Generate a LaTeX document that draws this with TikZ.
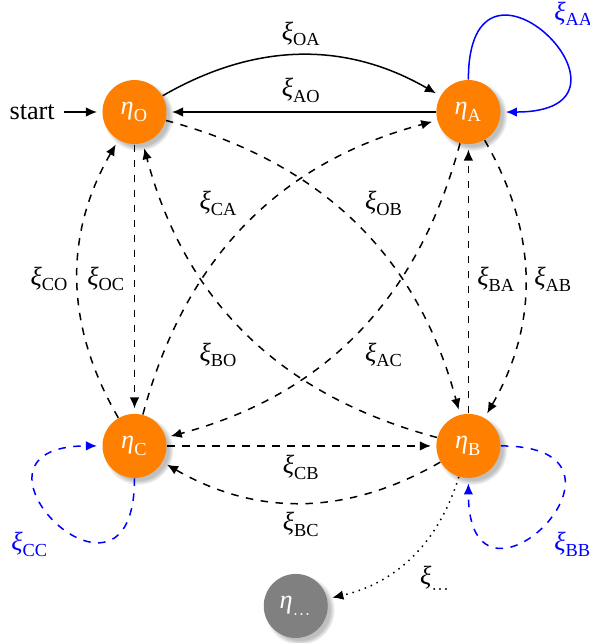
\documentclass[tikz,border=0pt]{standalone}
\usepackage{fontspec}
\setmainfont{Liberation Serif}
\usepackage{tikz}
\usetikzlibrary{arrows.meta, positioning, shadows, calc}

\newcommand{\xis}[1]{$\mbox{\itshape ξ}_{\mathrm{#1}}$}
\newcommand{\etas}[1]{$\mbox{\itshape η}_{\mathrm{#1}}$}

\begin{document}
\begin{tikzpicture}[
  font=\fontsize{10.5}{12.6}\selectfont,
  node distance=3.78cm,
  >={Latex[length=4.4pt, width=3.8pt]},
  every loop/.style={},
  stnode/.style={circle, fill=orange, text=white, minimum size=9mm,
    inner sep=0pt, circular drop shadow={shadow xshift=1.4pt,
    shadow yshift=-1.4pt, fill=black!25, opacity=1}},
  restnode/.style={stnode, fill=gray},
  arrow/.style={->, line width=0.6pt, shorten >=2pt},
  trans/.style={arrow, dashed},
  self/.style={arrow, color=blue, loop, looseness=9},
]
  \useasboundingbox (-1.891,-7.465) rectangle (6.390,1.575);

  \node[stnode] (O) {\etas{O}};
  \node[stnode, right=of O] (A) {\etas{A}};
  \node[stnode, below=of O] (C) {\etas{C}};
  \node[stnode, below=of A] (B) {\etas{B}};
  \node[restnode] (E) at ($(C)!0.5!(B)+(-0.08,-2.25)$) {\etas{\ldots}};
  \node[left=0.54cm of O] (start) {start};

  \draw[arrow] (start) -- (O);
  \draw[arrow] (O) to[bend left] node[above] {\xis{OA}} (A);
  \draw[arrow] (A) -- node[above] {\xis{AO}} (O);
  \draw[self] (A) to[out=90, in=0] node[above right] {\xis{AA}} (A);

  \draw[trans] (O) -- node[left] {\xis{OC}} (C);
  \draw[trans] (C) to[bend left] node[left] {\xis{CO}} (O);
  \draw[trans] (O) to[bend left] node[auto] {\xis{OB}} (B);
  \draw[trans] (B) to[bend left] node[auto] {\xis{BO}} (O);
  \draw[trans] (C) to[bend left] node[auto] {\xis{CA}} (A);
  \draw[trans] (A) to[bend left] node[auto] {\xis{AC}} (C);
  \draw[trans] (A) to[bend left] node[right] {\xis{AB}} (B);
  \draw[trans] (B) -- node[right] {\xis{BA}} (A);
  \draw[trans] (C) -- node[below] {\xis{CB}} (B);
  \draw[trans] (B) to[bend left] node[below] {\xis{BC}} (C);

  \draw[self, dashed] (C) to[out=270, in=180] node[below left] {\xis{CC}} (C);
  \draw[self, dashed] (B) to[out=0, in=270] node[below right] {\xis{BB}} (B);
  \draw[arrow, dotted] (B) to[bend left] node[auto] {\xis{\ldots}} (E);
\end{tikzpicture}
\end{document}
